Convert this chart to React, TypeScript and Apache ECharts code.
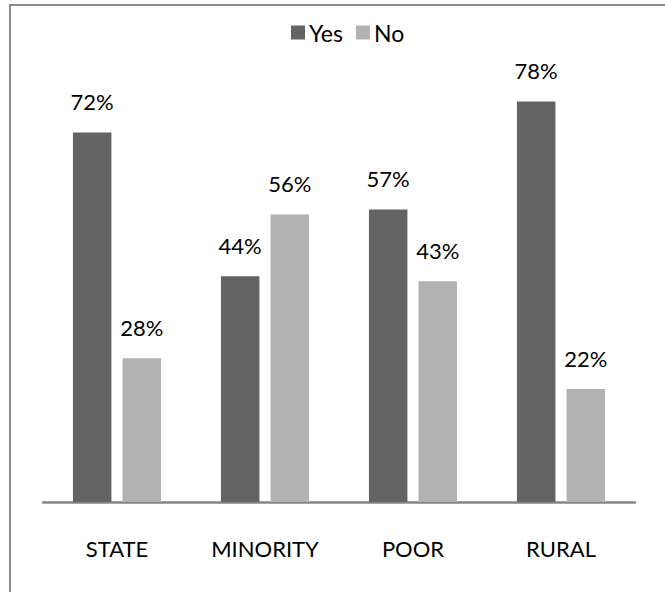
import React, { useEffect, useRef } from "react";
import * as echarts from "echarts";

const categories = ["STATE", "MINORITY", "POOR", "RURAL"];
const yesValues = [72, 44, 57, 78];
const noValues = [28, 56, 43, 22];
const seriesNames = ["Yes", "No"];

const FONT = "Lato, 'Open Sans', sans-serif";

export default function App() {
  const ref = useRef<HTMLDivElement>(null);
  useEffect(() => {
    if (!ref.current) return;
    const chart = echarts.init(ref.current, undefined, { renderer: "svg" });
    const labelStyle = {
      show: true,
      position: "top" as const,
      distance: 20,
      formatter: "{c}%",
      color: "#000",
      fontSize: 22,
      fontFamily: FONT,
    };
    chart.setOption({
      animation: false,
      backgroundColor: "#fff",
      graphic: [
        {
          type: "rect",
          shape: { x: 10, y: 5, width: 720, height: 720 },
          style: { fill: "none", stroke: "#8c8c8c", lineWidth: 2 },
          silent: true,
        },
      ],
      legend: {
        data: seriesNames,
        left: 286,
        top: 16,
        itemWidth: 14,
        itemHeight: 14,
        itemGap: 13,
        icon: "rect",
        textStyle: { fontSize: 23, fontFamily: FONT, color: "#000", padding: [0, 0, 0, -1] },
      },
      grid: { left: 43, right: 30, top: 40, bottom: 90, containLabel: false },
      xAxis: {
        type: "category",
        data: categories,
        axisLine: { lineStyle: { color: "#868686", width: 2.5 } },
        axisTick: { show: false },
        axisLabel: { margin: 35, fontSize: 22, fontFamily: FONT, color: "#000" },
      },
      yAxis: {
        type: "value",
        min: 0,
        max: 90,
        show: false,
        splitLine: { show: false },
      },
      series: [
        {
          name: seriesNames[0],
          type: "bar",
          data: yesValues,
          barWidth: "26%",
          barGap: "29%",
          itemStyle: { color: "#636363" },
          label: labelStyle,
        },
        {
          name: seriesNames[1],
          type: "bar",
          data: noValues,
          barWidth: "26%",
          barGap: "29%",
          itemStyle: { color: "#b2b2b2" },
          label: labelStyle,
        },
      ],
    });
    return () => chart.dispose();
  }, []);
  return (
    <div
      ref={ref}
      style={{ position: "fixed", left: 0, top: 0, width: 665, height: 592, background: "#fff" }}
    />
  );
}
